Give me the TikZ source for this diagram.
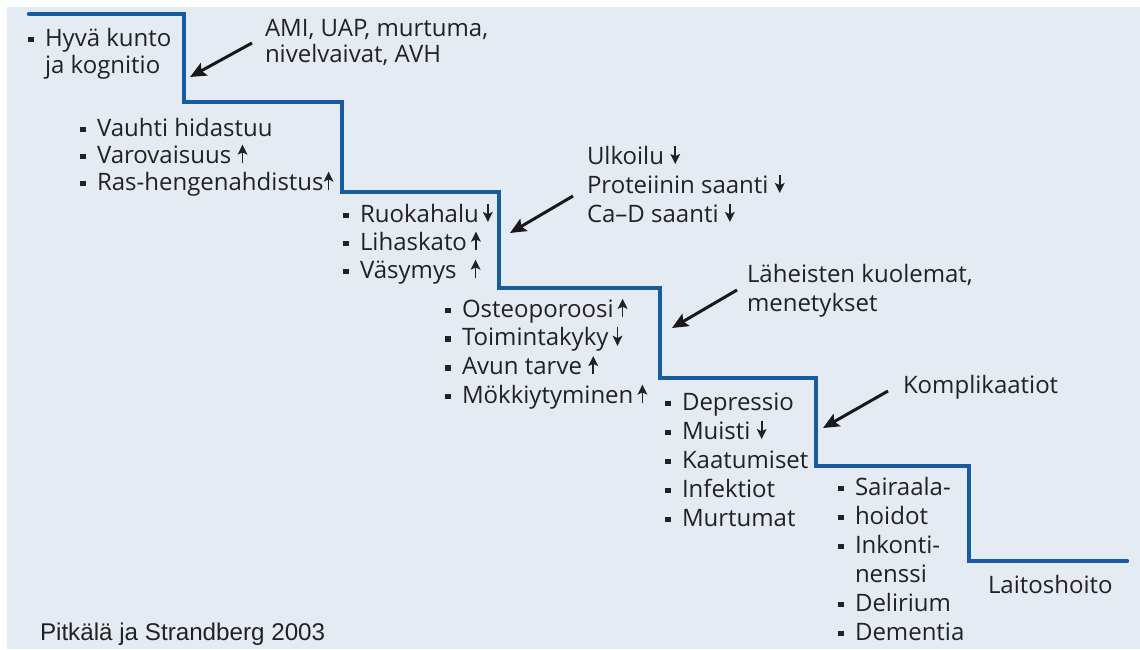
\documentclass[tikz,border=0pt]{standalone}
\usepackage{fontspec}
\setmainfont{Open Sans}
\newfontfamily\citefont{Liberation Sans}
\usetikzlibrary{arrows.meta}
\definecolor{bgc}{RGB}{228,235,243}
\definecolor{stairc}{RGB}{24,92,160}
\definecolor{txtc}{RGB}{34,34,34}
\newcommand\bul{\makebox[8.5pt][l]{\raisebox{1.9pt}{\rule{2.8pt}{2.8pt}}}}
\newcommand\ind{\hspace*{8.5pt}}
\newcommand\upa{\tikz[baseline=0pt,x=1pt,y=1pt]{\draw[line width=0.8pt,txtc] (0,0)--(0,6);\fill[txtc] (-2.5,4.1)--(0,9.2)--(2.5,4.1)--(0,5.3)--cycle;}}
\newcommand\dna{\tikz[baseline=0pt,x=1pt,y=1pt]{\draw[line width=0.8pt,txtc] (0,9.2)--(0,3.2);\fill[txtc] (-2.5,5.1)--(0,0)--(2.5,5.1)--(0,3.9)--cycle;}}
\begin{document}
\begin{tikzpicture}[x=0.5pt,y=-0.5pt,
  txt/.style={anchor=base west,inner sep=0pt,outer sep=0pt,align=left,text=txtc,font=\fontsize{12pt}{14.5pt}\selectfont},
  stair/.style={draw=stairc,line width=2.2pt,line cap=round,line join=miter},
  pointer/.style={draw=black!90,line width=1.5pt,-{Stealth[length=8pt,width=7pt,inset=1.5pt]}}]
\useasboundingbox (0,0) rectangle (1140,649);
\fill[white] (0,0) rectangle (1140,649);
\fill[bgc] (7,7) rectangle (1140,649);
% staircase
\draw[stair] (29,14) -| (184,102) -| (342,192) -| (499,288) -| (660,378) -| (816,466) -| (969,561) -- (1127,561);
% text groups (anchored at the baseline of the last line)
\node[txt,font=\fontsize{12pt}{13.5pt}\selectfont] (g1) at (28,73) {\bul Hyvä kunto\\\ind ja kognitio};
\node[txt,font=\fontsize{12pt}{13pt}\selectfont] (ami) at (265,62) {AMI, UAP, murtuma,\\nivelvaivat, AVH};
\node[txt,font=\fontsize{12pt}{13.5pt}\selectfont] (g2) at (80,190) {\bul Vauhti hidastuu\\\bul Varovaisuus \upa\\\bul Ras-hengenahdistus\upa};
\node[txt,font=\fontsize{12pt}{14pt}\selectfont] (g3) at (343,278) {\bul Ruokahalu\,\dna\\\bul Lihaskato\,\upa\\\bul Väsymys\hspace{7pt}\upa};
\node[txt,font=\fontsize{12pt}{14.5pt}\selectfont] (ulk) at (587,222) {Ulkoilu \dna\\Proteiinin saanti \dna\\Ca–D saanti \dna};
\node[txt,font=\fontsize{12pt}{14.3pt}\selectfont] (g4) at (445,403) {\bul Osteoporoosi\,\upa\\\bul Toimintakyky\,\dna\\\bul Avun tarve \upa\\\bul Mökkiytyminen\,\upa};
\node[txt,font=\fontsize{12pt}{14.5pt}\selectfont] (lah) at (747,311) {Läheisten kuolemat,\\menetykset};
\node[txt,font=\fontsize{12pt}{14.5pt}\selectfont] (g5) at (665,526) {\bul Depressio\\\bul Muisti \dna\\\bul Kaatumiset\\\bul Infektiot\\\bul Murtumat};
\node[txt] (komp) at (903,393) {Komplikaatiot};
\node[txt,font=\fontsize{12pt}{14.5pt}\selectfont] (g6) at (838,640) {\bul Sairaala-\\\bul hoidot\\\bul Inkonti-\\\ind nenssi\\\bul Delirium\\\bul Dementia};
\node[txt] (lait) at (988,593) {Laitoshoito};
\node[txt,font=\citefont\fontsize{12.1pt}{14pt}\selectfont] (cite) at (40,640) {Pitkälä ja Strandberg 2003};
% pointer arrows
\coordinate (p1s) at (252,43); \coordinate (p1e) at (190,77);
\coordinate (p2s) at (573,196); \coordinate (p2e) at (510,233);
\coordinate (p3s) at (737,290); \coordinate (p3e) at (672,328);
\coordinate (p4s) at (888,391); \coordinate (p4e) at (823,428);
\draw[pointer] (p1s) -- (p1e);
\draw[pointer] (p2s) -- (p2e);
\draw[pointer] (p3s) -- (p3e);
\draw[pointer] (p4s) -- (p4e);
\end{tikzpicture}
\end{document}
